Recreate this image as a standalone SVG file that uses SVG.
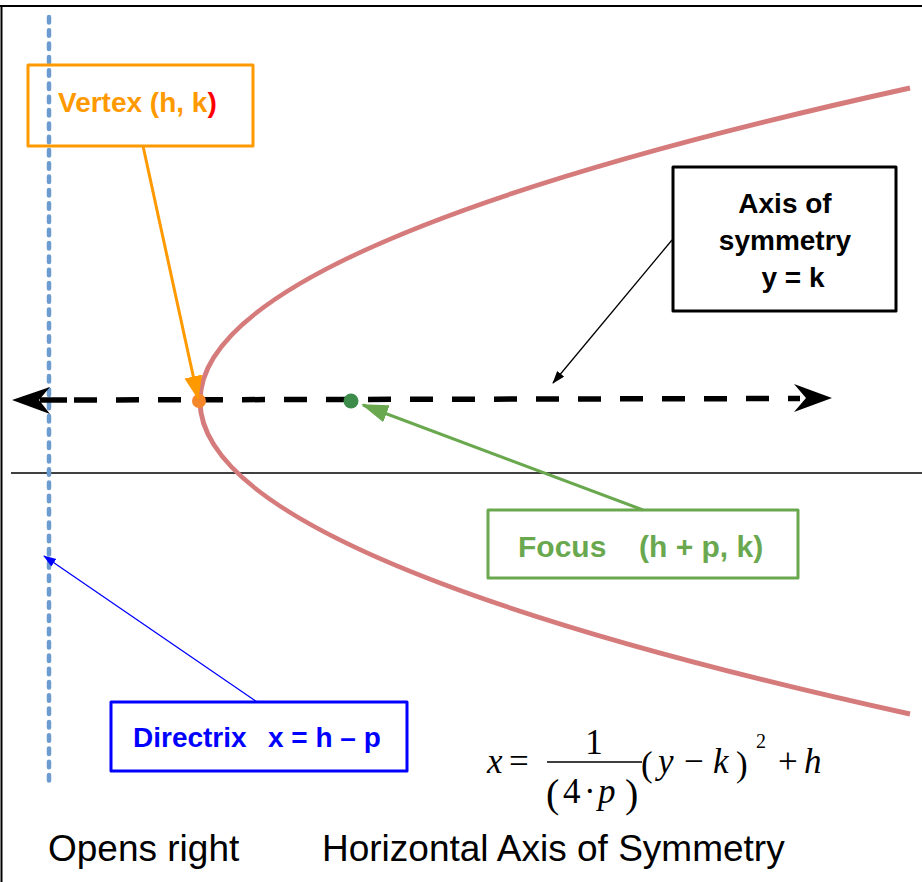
<svg xmlns="http://www.w3.org/2000/svg" width="922" height="882" viewBox="0 0 922 882">
<style>
.box{fill:none;stroke-width:3;stroke-linejoin:round}
.lbl{font-family:"Liberation Sans",Arial,sans-serif;font-weight:bold;font-size:28px}
.m{font-family:"Liberation Serif","Times New Roman",serif;font-size:35px;fill:#000}
.mi{font-style:italic}
.cap{font-family:"Liberation Sans",Arial,sans-serif;font-size:37px;fill:#000}
</style>
<defs>
<marker id="ahO" markerUnits="userSpaceOnUse" markerWidth="24" markerHeight="20" refX="22" refY="9" orient="auto"><path d="M0,0 L24,9 L0,18 z" fill="#ff9900"/></marker>
<marker id="ahG" markerUnits="userSpaceOnUse" markerWidth="28" markerHeight="20" refX="25" refY="9" orient="auto"><path d="M0,0 L27,9 L0,18 z" fill="#6aa84f"/></marker>
<marker id="ahK" markerUnits="userSpaceOnUse" markerWidth="14" markerHeight="10" refX="12" refY="4.5" orient="auto"><path d="M0,0 L13,4.5 L0,9 z" fill="#000"/></marker>
<marker id="ahB" markerUnits="userSpaceOnUse" markerWidth="14" markerHeight="10" refX="12" refY="4.5" orient="auto"><path d="M0,0 L13,4.5 L0,9 z" fill="#0000ff"/></marker>
</defs>
<rect width="922" height="882" fill="#fff"/>
<g id="frame">
<line x1="0" y1="6" x2="922" y2="6" stroke="#000" stroke-width="2"/>
<line x1="1.5" y1="6" x2="1.5" y2="882" stroke="#000" stroke-width="2"/>
</g>
<g id="x-axis-line"><line x1="11" y1="473" x2="922" y2="473" stroke="#000" stroke-width="1.5"/></g>
<g id="directrix-line"><line x1="49" y1="17" x2="49" y2="784" stroke="#6c9bcf" stroke-width="4.5" stroke-linecap="round" stroke-dasharray="5.5 7.8"/></g>
<g id="parabola"><path d="M910,88 Q-510,401 910,714" fill="none" stroke="#d67b7b" stroke-width="5"/></g>
<g id="axis-of-symmetry">
<line x1="40" y1="400" x2="67" y2="400" stroke="#000" stroke-width="5.5"/>
<line x1="74" y1="400" x2="800" y2="398.5" stroke="#000" stroke-width="5.5" stroke-dasharray="23 19"/>
<polygon points="12,400 50,387 39,400 50,414" fill="#000"/>
<polygon points="832,398 794,384 806,398 794,412" fill="#000"/>
</g>
<g id="vertex-point"><circle cx="199" cy="401" r="7" fill="#f5862a"/></g>
<g id="focus-point"><circle cx="351" cy="401" r="7.5" fill="#3d8c4c"/></g>
<g id="connectors">
<line x1="143" y1="146" x2="198" y2="398" stroke="#ff9900" stroke-width="3" marker-end="url(#ahO)"/>
<line x1="643" y1="510" x2="363" y2="405" stroke="#6aa84f" stroke-width="3" marker-end="url(#ahG)"/>
<line x1="672" y1="240" x2="553" y2="383" stroke="#000" stroke-width="1.3" marker-end="url(#ahK)"/>
<line x1="257" y1="702" x2="44" y2="556" stroke="#0000ff" stroke-width="1.3" marker-end="url(#ahB)"/>
</g>
<g id="vertex-label">
<rect class="box" x="28" y="65" width="225" height="81" stroke="#ff9900"/>
<text class="lbl" x="58" y="112" fill="#ff9900">Vertex (h, k<tspan fill="#ff0000">)</tspan></text>
</g>
<g id="axis-label">
<rect class="box" x="673" y="167" width="223" height="144" stroke="#000"/>
<text class="lbl" fill="#000" text-anchor="middle"><tspan x="785" y="213">Axis of</tspan><tspan x="785" y="250">symmetry</tspan><tspan x="793" y="287">y = k</tspan></text>
</g>
<g id="focus-label">
<rect class="box" x="488" y="510" width="310" height="68" stroke="#6aa84f"/>
<text class="lbl" fill="#6aa84f" style="font-size:30px"><tspan x="518" y="557">Focus</tspan><tspan x="639" y="557">(h + p, k)</tspan></text>
</g>
<g id="directrix-label">
<rect class="box" x="111" y="702" width="296" height="69" stroke="#0000ff"/>
<text class="lbl" fill="#0000ff"><tspan x="133" y="747">Directrix</tspan><tspan x="268" y="747">x = h – p</tspan></text>
</g>
<g id="formula">
<text class="m mi" x="487" y="773">x</text>
<text class="m" x="509" y="773">=</text>
<line x1="547" y1="762" x2="642" y2="762" stroke="#000" stroke-width="1.5"/>
<text class="m" x="594" y="754" text-anchor="middle">1</text>
<text class="m" x="546" y="807" style="font-size:40px">(</text>
<text class="m" x="563" y="803">4</text>
<text class="m" x="584" y="803">·</text>
<text class="m mi" x="598" y="803">p</text>
<text class="m" x="625" y="807" style="font-size:40px">)</text>
<text class="m" x="641" y="776">(</text>
<text class="m mi" x="658" y="773">y</text>
<text class="m" x="684" y="773">−</text>
<text class="m mi" x="713" y="773">k</text>
<text class="m" x="736" y="776">)</text>
<text class="m" x="756" y="748" style="font-size:20px">2</text>
<text class="m" x="778" y="773">+</text>
<text class="m mi" x="804" y="773">h</text>
</g>
<g id="captions">
<text class="cap" x="48" y="861">Opens right</text>
<text class="cap" x="322" y="861">Horizontal Axis of Symmetry</text>
</g>
</svg>
